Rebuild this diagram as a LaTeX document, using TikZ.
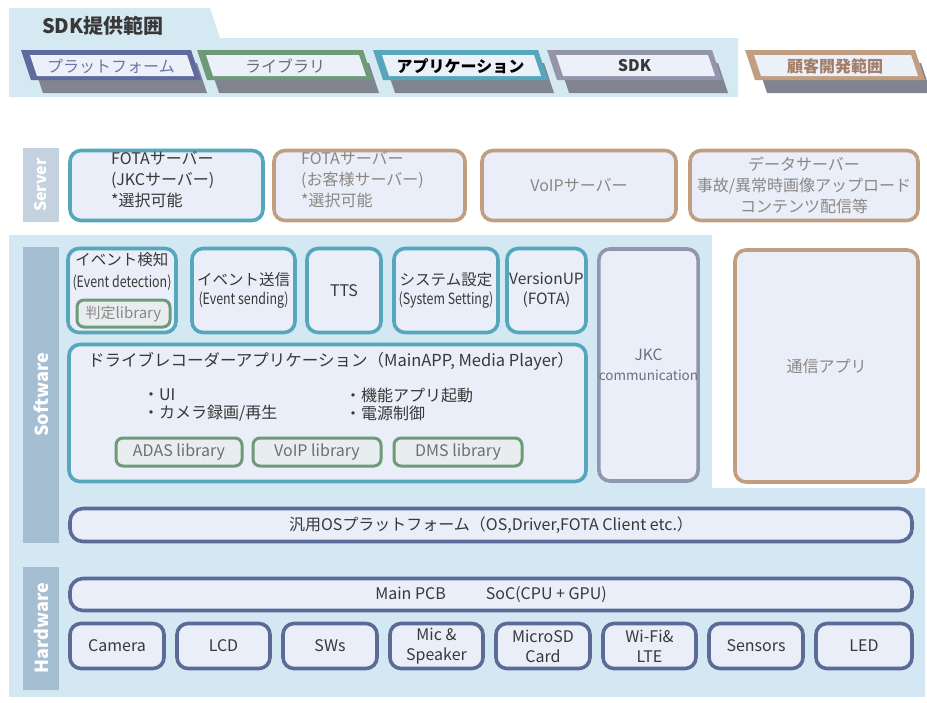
\documentclass[tikz,border=0pt]{standalone}
\usepackage{fontspec}
\setmainfont{Noto Sans CJK JP}
\definecolor{bgc}{HTML}{D3E8F2}
\definecolor{bandc}{HTML}{D5E9F3}
\definecolor{boxfill}{HTML}{E9EEF8}
\definecolor{legfill}{HTML}{ECF0F8}
\definecolor{tealc}{HTML}{56A6BC}
\definecolor{tanc}{HTML}{C29E80}
\definecolor{slatec}{HTML}{5C6A98}
\definecolor{platc}{HTML}{5F6A9E}
\definecolor{jkcc}{HTML}{8E97AD}
\definecolor{sdkc}{HTML}{9494AA}
\definecolor{libc}{HTML}{6E9A78}
\definecolor{libfill}{HTML}{E8EEF0}
\definecolor{swbar}{HTML}{A6BED2}
\definecolor{svbar}{HTML}{C3D2DE}
\definecolor{txt}{HTML}{383838}
\definecolor{graytxt}{HTML}{8C8784}
\definecolor{libtxt}{HTML}{6E6E6E}
\definecolor{jkctxt}{HTML}{6A6E7E}
\definecolor{shadowc}{HTML}{80858F}
\definecolor{plattxt}{HTML}{6E75A5}
\definecolor{custtxt}{HTML}{A27E66}
\newcommand\myfs[2]{\fontsize{#1}{#2}\selectfont}
\newcommand\cnd[1]{\scalebox{0.8}[1]{#1}}
\newcommand\legitem[6]{%
  \fill[shadowc] (#1+12,63) -- (#1+#2+6,63) -- (#1+#2+16,93) -- (#1+22,93) -- cycle;
  \fill[#3] (#1,50) -- (#1+#2,50) -- (#1+#2+10,80) -- (#1+10,80) -- cycle;
  \fill[legfill] (#1+9,55) -- (#1+#2-4,55) -- (#1+#2+3,76) -- (#1+16,76) -- cycle;
  \node[text=#5, font=\myfs{16}{19}, inner sep=0pt] (#4) at (#1+#2/2+5,66) {#6};
}
\begin{document}
\begin{tikzpicture}[x=1pt,y=-1pt,
  bx/.style={rectangle, rounded corners=11pt, fill=boxfill, line width=3.6pt,
    inner sep=0pt, align=center, text=txt, font=\myfs{16}{20}},
  tealbx/.style={bx, draw=tealc},
  tanbx/.style={bx, draw=tanc, text=graytxt},
  slatebx/.style={bx, draw=slatec},
  jkcbx/.style={bx, draw=jkcc, text=jkctxt},
  libbx/.style={bx, draw=libc, rounded corners=7pt, line width=3pt, fill=libfill, text=libtxt},
  lbl/.style={inner sep=0pt, text=txt, font=\myfs{16}{20}},
  barlbl/.style={rotate=90, text=white, inner sep=0pt}]
\useasboundingbox (0,0) rectangle (927,702);
\fill[white] (0,0) rectangle (927,702);

% ---- legend band ----
\fill[bandc] (9,8) -- (210,8) -- (220,38) -- (738,38) -- (738,97) -- (9,97) -- cycle;
\node[anchor=west, inner sep=0pt, text=txt, font=\bfseries\myfs{20}{24}] (sdkrange) at (42,26) {SDK提供範囲};
\legitem{21}{170}{platc}{legplat}{plattxt}{プラットフォーム}
\legitem{197}{166}{libc}{leglib}{libtxt}{ライブラリ}
\legitem{373}{165}{tealc}{legapp}{black}{\bfseries アプリケーション}
\legitem{547}{165}{sdkc}{legsdk}{txt}{\bfseries SDK}
\legitem{745}{170}{tanc}{legcust}{custtxt}{\bfseries 顧客開発範囲}

% ---- server row ----
\fill[svbar] (23,148) rectangle (59,222);
\node[barlbl, font=\bfseries\myfs{16}{19}] (serverlbl) at (41,185) {Server};
\node[tealbx, minimum width=193pt, minimum height=70pt] (fotajkc) at (166.5,185.5) {};
\node[lbl, anchor=west, align=left, font=\myfs{16}{21}] (fotajkctxt) at (111,180) {FOTAサーバー\\(JKCサーバー)\\*選択可能};
\node[tanbx, minimum width=191pt, minimum height=70pt] (fotacust) at (369.5,185.5) {};
\node[lbl, anchor=west, align=left, text=graytxt, font=\myfs{16}{21}] (fotacusttxt) at (301,180) {FOTAサーバー\\(お客様サーバー)\\*選択可能};
\node[tanbx, minimum width=194pt, minimum height=70pt] (voipsv) at (579,185.5) {VoIPサーバー};
\node[tanbx, minimum width=228pt, minimum height=70pt, font=\myfs{16}{21}] (datasv) at (804,185.5) {データサーバー\\事故/異常時画像アップロード\\コンテンツ配信等};

% ---- software / hardware background ----
\fill[bgc] (9,235) rectangle (925,697);
\fill[white] (712,235) rectangle (927,488);
\fill[swbar] (23,247) rectangle (59,543);
\node[barlbl, font=\bfseries\myfs{18}{21}] (swlbl) at (41,395) {Software};
\fill[swbar] (23,567) rectangle (59,690);
\node[barlbl, font=\bfseries\myfs{18}{21}] (hwlbl) at (41,628) {Hardware};

% top row of software
\node[tealbx, minimum width=108pt, minimum height=84pt] (evdet) at (122,290.5) {};
\node[lbl, anchor=north, align=center, font=\myfs{15.5}{22}] (evdettxt) at (122,252) {イベント検知\\\myfs{15.5}{18}\cnd{(Event detection)}};
\node[libbx, minimum width=93pt, minimum height=27pt, font=\myfs{15}{18}, text=graytxt] (judge) at (123.5,313.5) {判定library};
\node[tealbx, minimum width=103pt, minimum height=84pt, font=\myfs{15.5}{19}] (evsend) at (243.5,290.5) {イベント送信\\\myfs{15.5}{18}\cnd{(Event sending)}};
\node[tealbx, minimum width=74pt, minimum height=84pt] (tts) at (344,290.5) {TTS};
\node[tealbx, minimum width=104pt, minimum height=84pt, font=\myfs{15.5}{19}] (sysset) at (446,290.5) {システム設定\\\myfs{15.5}{18}\cnd{(System Setting)}};
\node[tealbx, minimum width=79pt, minimum height=84pt, font=\myfs{15.5}{20}] (verup) at (546.5,290.5) {VersionUP\\(FOTA)};
\node[jkcbx, minimum width=99pt, minimum height=232pt, font=\myfs{15.5}{20}] (jkc) at (648.5,365) {JKC\\\myfs{13.5}{17}communication};
\node[tanbx, minimum width=183pt, minimum height=232pt] (tsushin) at (826.5,366) {通信アプリ};

% drive recorder app
\node[tealbx, minimum width=517pt, minimum height=137pt] (drv) at (327.5,413) {};
\node[lbl, font=\myfs{16.5}{20}] (drvtitle) at (331,361) {ドライブレコーダーアプリケーション（MainAPP, Media Player）};
\node[lbl, anchor=west, font=\myfs{16}{20}] (bui) at (143,395) {・UI};
\node[lbl, anchor=west, font=\myfs{16}{20}] (bcam) at (143,413) {・カメラ録画/再生};
\node[lbl, anchor=west, font=\myfs{16}{20}] (bfunc) at (345,395) {・機能アプリ起動};
\node[lbl, anchor=west, font=\myfs{16}{20}] (bpow) at (345,413) {・電源制御};
\node[libbx, minimum width=126pt, minimum height=28pt] (adas) at (179,452) {ADAS library};
\node[libbx, minimum width=128pt, minimum height=28pt] (voiplib) at (317,452) {VoIP library};
\node[libbx, minimum width=128pt, minimum height=28pt] (dms) at (458,452) {DMS library};

% OS
\node[slatebx, minimum width=842pt, minimum height=33pt, rounded corners=13pt] (os) at (491,525) {汎用OSプラットフォーム（OS,Driver,FOTA Client etc.）};

% hardware
\node[slatebx, minimum width=842pt, minimum height=32pt, rounded corners=13pt] (pcb) at (491,594.5) {Main PCB\hspace{40pt}SoC(CPU + GPU)};
\node[slatebx, minimum width=94pt, minimum height=45pt] (cam) at (117,646) {Camera};
\node[slatebx, minimum width=93pt, minimum height=45pt] (lcd) at (223.5,646) {LCD};
\node[slatebx, minimum width=94pt, minimum height=45pt] (sws) at (330,646) {SWs};
\node[slatebx, minimum width=93pt, minimum height=45pt, font=\myfs{16}{20}] (mic) at (436.5,646) {Mic \&\\Speaker};
\node[slatebx, minimum width=94pt, minimum height=45pt, font=\myfs{16}{20}] (sd) at (543,646) {MicroSD\\Card};
\node[slatebx, minimum width=93pt, minimum height=45pt, font=\myfs{16}{20}] (wifi) at (649.5,646) {Wi-Fi\&\\LTE};
\node[slatebx, minimum width=94pt, minimum height=45pt] (sens) at (756,646) {Sensors};
\node[slatebx, minimum width=96pt, minimum height=45pt] (led) at (864,646) {LED};
\end{tikzpicture}
\end{document}
